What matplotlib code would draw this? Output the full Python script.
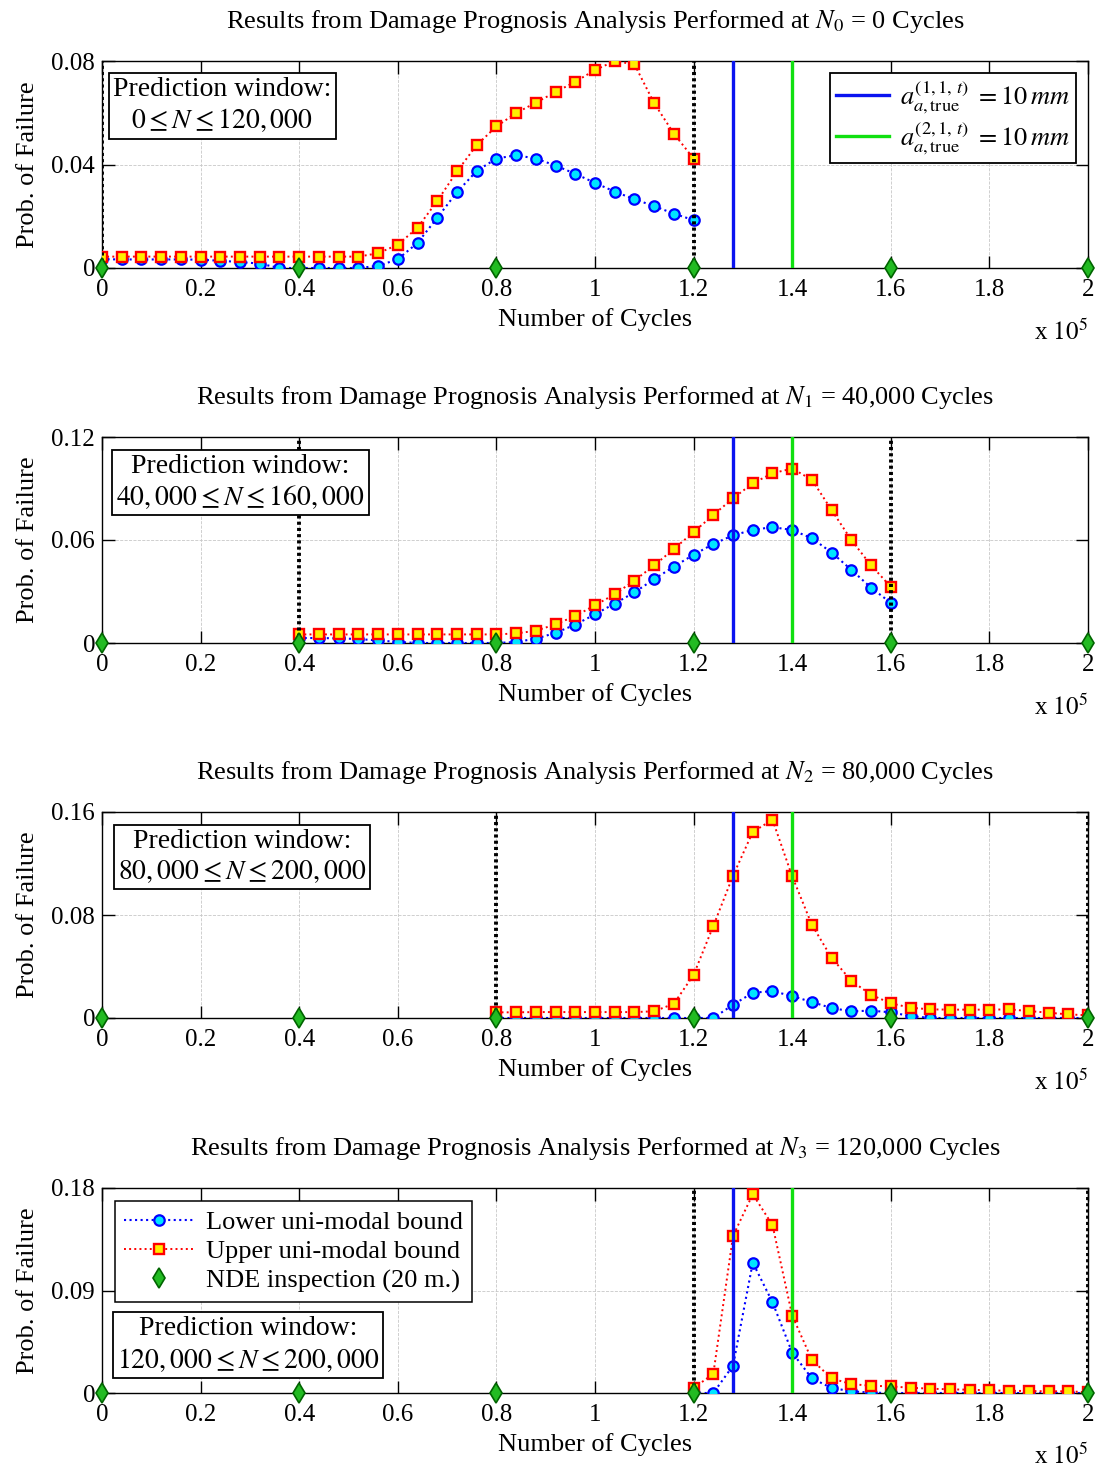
import matplotlib
matplotlib.use("Agg")
import matplotlib.pyplot as plt
from matplotlib.ticker import FuncFormatter, FixedLocator

plt.rcParams['font.family'] = 'serif'
plt.rcParams['font.serif'] = ['Liberation Serif', 'DejaVu Serif']
plt.rcParams['mathtext.fontset'] = 'stix'

# ---------------- data ----------------
# cycle grids (4000-cycle spacing inside each prediction window)
cycles_0 = list(range(0, 120001, 4000))
cycles_1 = list(range(40000, 160001, 4000))
cycles_2 = list(range(80000, 200001, 4000))
cycles_3 = list(range(120000, 200001, 4000))

lower_0 = [0.0034, 0.0033, 0.0033, 0.0033, 0.0033, 0.0032, 0.0028, 0.0023, 0.0017, 0.0,
           0.0, 0.0, 0.0, 0.0, 0.0008, 0.0034, 0.0097, 0.0194, 0.0293, 0.0375,
           0.0423, 0.0436, 0.0423, 0.0396, 0.0364, 0.0329, 0.0295, 0.0266, 0.0239, 0.0210,
           0.0185]
upper_0 = [0.0044, 0.0044, 0.0044, 0.0044, 0.0044, 0.0044, 0.0044, 0.0044, 0.0044, 0.0044,
           0.0044, 0.0044, 0.0044, 0.0044, 0.0057, 0.0090, 0.0156, 0.0259, 0.0373, 0.0475,
           0.0547, 0.0599, 0.0639, 0.0680, 0.0720, 0.0765, 0.0800, 0.0787, 0.0637, 0.0519,
           0.0423]

lower_1 = [0.0029, 0.0029, 0.0027, 0.0023, 0.0015, 0.0006, 0.0, 0.0, 0.0, 0.0,
           0.0, 0.0006, 0.0025, 0.0059, 0.0107, 0.0167, 0.0230, 0.0295, 0.0372, 0.0445,
           0.0514, 0.0577, 0.0627, 0.0659, 0.0675, 0.0658, 0.0610, 0.0527, 0.0426, 0.0322,
           0.0234]
upper_1 = [0.0050, 0.0050, 0.0050, 0.0050, 0.0050, 0.0050, 0.0050, 0.0050, 0.0050, 0.0050,
           0.0050, 0.0056, 0.0071, 0.0109, 0.0157, 0.0220, 0.0284, 0.0364, 0.0452, 0.0548,
           0.0646, 0.0746, 0.0843, 0.0930, 0.0989, 0.1016, 0.0951, 0.0774, 0.0600, 0.0452,
           0.0328]

lower_2 = [0.0, 0.0, 0.0, 0.0, 0.0, 0.0, 0.0, 0.0, 0.0, 0.0,
           0.0, 0.0, 0.0103, 0.0196, 0.0209, 0.0170, 0.0124, 0.0077, 0.0052, 0.0057,
           0.0044, 0.0015, 0.0, 0.0, 0.0, 0.0, 0.0, 0.0, 0.0, 0.0,
           0.0]
upper_2 = [0.0044, 0.0044, 0.0046, 0.0046, 0.0046, 0.0046, 0.0046, 0.0046, 0.0052, 0.0111,
           0.0335, 0.0715, 0.1105, 0.1445, 0.1540, 0.1100, 0.0723, 0.0467, 0.0289, 0.0180,
           0.0114, 0.0080, 0.0067, 0.0065, 0.0065, 0.0065, 0.0067, 0.0054, 0.0041, 0.0028,
           0.0021]

lower_3 = [0.0, 0.0, 0.0240, 0.1145, 0.0797, 0.0355, 0.0128, 0.0044, 0.0015, 0.0003,
           0.0, 0.0, 0.0, 0.0, 0.0, 0.0, 0.0, 0.0, 0.0, 0.0,
           0.0]
upper_3 = [0.0044, 0.0168, 0.1380, 0.1745, 0.1475, 0.0680, 0.0290, 0.0128, 0.0078, 0.0064,
           0.0058, 0.0046, 0.0038, 0.0032, 0.0029, 0.0023, 0.0020, 0.0017, 0.0015, 0.0015,
           0.0006]

nde_cycles = [0, 40000, 80000, 120000, 160000, 200000]
nde_values = [0, 0, 0, 0, 0, 0]

true_crack_1 = 128000   # a^(1,1,t) reaches 10 mm
true_crack_2 = 140000   # a^(2,1,t) reaches 10 mm

start_labels = ['0', '40,000', '80,000', '120,000']
start_subs = ['0', '1', '2', '3']
windows = [(0, 120000), (40000, 160000), (80000, 200000), (120000, 200000)]
window_text = [r'$0 \leq N \leq 120,000$',
               r'$40,000 \leq N \leq 160,000$',
               r'$80,000 \leq N \leq 200,000$',
               r'$120,000 \leq N \leq 200,000$']
y_maxes = [0.08, 0.12, 0.16, 0.18]
y_ticks = [[0, 0.04, 0.08], [0, 0.06, 0.12], [0, 0.08, 0.16], [0, 0.09, 0.18]]
x_ticks = [0, 20000, 40000, 60000, 80000, 100000, 120000, 140000, 160000, 180000, 200000]

series = [(cycles_0, lower_0, upper_0), (cycles_1, lower_1, upper_1),
          (cycles_2, lower_2, upper_2), (cycles_3, lower_3, upper_3)]

# ---------------- figure ----------------
fig = plt.figure(figsize=(11, 14.75), dpi=100)
W, H = 1100, 1475
panel_px = [(61, 268), (437, 643), (812, 1018), (1188, 1393)]
left_px, right_px = 102, 1088

blue_line = '#0a14f0'
green_line = '#10e010'

for i in range(4):
    top, bot = panel_px[i]
    ax = fig.add_axes([left_px / W, 1 - bot / H, (right_px - left_px) / W, (bot - top) / H])
    xs, lo, up = series[i]

    ax.plot(xs, lo, linestyle=':', color='blue', lw=1.5, marker='o', ms=7.5,
            mfc='#00e5ff', mec='blue', mew=1.6, zorder=4,
            label='Lower uni-modal bound')
    ax.plot(xs, up, linestyle=':', color='red', lw=1.4, marker='s', ms=6.5,
            mfc='#ffee00', mec='red', mew=1.7, zorder=5,
            label='Upper uni-modal bound')

    # prediction window limits
    for xw in windows[i]:
        ax.axvline(xw, color='black', linestyle=(0, (0.8, 0.8)), lw=2.8, zorder=6)

    h1 = ax.axvline(true_crack_1, color=blue_line, lw=2.4, zorder=6)
    h2 = ax.axvline(true_crack_2, color=green_line, lw=2.4, zorder=6)

    ax.plot(nde_cycles, nde_values, linestyle='none', marker='d', ms=10,
            mfc='#22bb22', mec='#006400', mew=1.2, clip_on=False, zorder=8,
            label='NDE inspection (20 m.)')

    ax.set_xlim(0, 200000)
    ax.set_ylim(0, y_maxes[i])
    ax.xaxis.set_major_locator(FixedLocator(x_ticks))
    ax.xaxis.set_major_formatter(FuncFormatter(lambda v, p: '%g' % (v / 1e5)))
    ax.yaxis.set_major_locator(FixedLocator(y_ticks[i]))
    ax.yaxis.set_major_formatter(FuncFormatter(lambda v, p: '%g' % v))
    ax.tick_params(direction='in', length=9, width=1, top=True, right=True,
                   labelsize=18, pad=8, colors='black')
    ax.tick_params(axis='y', pad=5)
    ax.grid(True, linestyle='--', color='#c8c8c8', lw=0.6)
    for s in ax.spines.values():
        s.set_linewidth(1.0)
        s.set_color('black')

    ax.set_xlabel('Number of Cycles', fontsize=19, labelpad=5)
    ax.set_ylabel('Prob. of Failure', fontsize=19, labelpad=9)
    ax.set_title('Results from Damage Prognosis Analysis Performed at $N_{%s}$ = %s Cycles'
                 % (start_subs[i], start_labels[i]), fontsize=19, pad=24)
    ax.text(1.0, -0.31, r'x $10^{5}$', transform=ax.transAxes, ha='right',
            va='center', fontsize=18)

    # prediction window box
    win_pos = [(0.122, 0.783), (0.1405, 0.78), (0.142, 0.78), (0.148, 0.234)][i]
    ax.text(win_pos[0], win_pos[1], 'Prediction window:\n' + window_text[i],
            transform=ax.transAxes, ha='center', va='center', fontsize=20,
            linespacing=1.2, zorder=10,
            bbox=dict(boxstyle='square,pad=0.15', fc='white', ec='black', lw=1.3))

    if i == 0:
        leg = ax.legend([h1, h2],
                        [r'$a_{a,\mathrm{true}}^{(1,1,\,t)}\ = 10\,mm$',
                         r'$a_{a,\mathrm{true}}^{(2,1,\,t)}\ = 10\,mm$'],
                        loc='upper right', fontsize=19, fancybox=False,
                        framealpha=1, edgecolor='black', handlelength=2.0,
                        borderpad=0.25, labelspacing=0.15, handletextpad=0.4,
                        borderaxespad=0.45)
        leg.get_frame().set_linewidth(1.3)
        leg.set_zorder(12)
    if i == 3:
        leg = ax.legend(loc='upper left', fontsize=19, fancybox=False, framealpha=1,
                        edgecolor='black', handlelength=2.6, numpoints=1,
                        borderpad=0.35, labelspacing=0.22, handletextpad=0.5,
                        borderaxespad=0.5)
        leg.get_frame().set_linewidth(1.1)
        leg.set_zorder(12)

fig.savefig('out.png', dpi=100)
